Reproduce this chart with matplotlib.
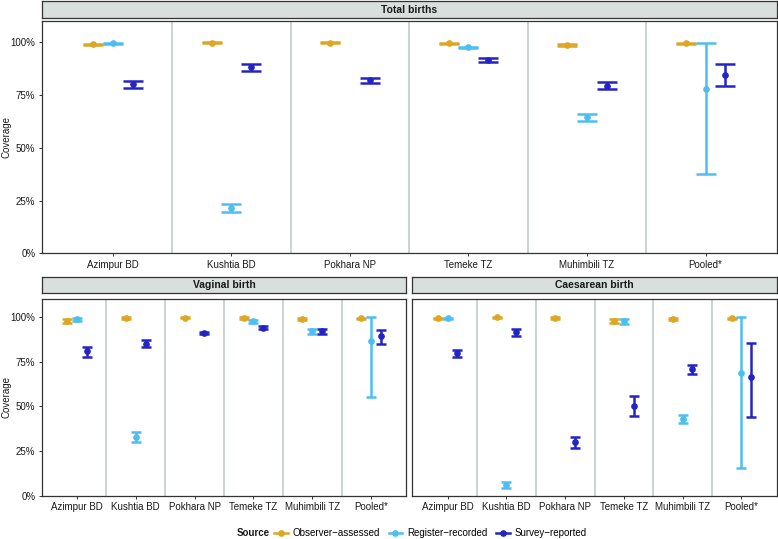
import numpy as np
import matplotlib
matplotlib.use("Agg")
import matplotlib.pyplot as plt
from matplotlib.lines import Line2D

plt.rcParams['font.family'] = ['Liberation Sans', 'DejaVu Sans']

nan = np.nan
sites = ["Azimpur BD", "Kushtia BD", "Pokhara NP", "Temeke TZ", "Muhimbili TZ", "Pooled*"]
sources = ["Observer\u2212assessed", "Register\u2212recorded", "Survey\u2212reported"]
colors = ["#DDA623", "#4DBEF2", "#2424C4"]

# Total births (percent)
tot_obs = [99.0, 99.8, 99.8, 99.5, 98.6, 99.5]
tot_obs_lo = [98.6, 99.5, 99.5, 99.2, 98.2, 99.2]
tot_obs_hi = [99.3, 100.0, 100.0, 99.8, 99.0, 99.8]
tot_reg = [99.5, 21.6, nan, 97.6, 64.5, 77.9]
tot_reg_lo = [99.2, 19.6, nan, 97.2, 62.6, 37.8]
tot_reg_hi = [99.8, 23.5, nan, 98.0, 66.2, 99.5]
tot_sur = [80.1, 88.1, 82.0, 91.6, 79.5, 84.7]
tot_sur_lo = [78.5, 86.6, 80.9, 90.5, 77.7, 79.1]
tot_sur_hi = [81.8, 89.7, 82.9, 92.7, 81.2, 89.7]

# Vaginal birth
vag_obs = [97.9, 99.6, 99.8, 99.6, 99.1, 99.4]
vag_obs_lo = [97.0, 99.2, 99.5, 99.2, 98.6, 99.0]
vag_obs_hi = [98.9, 100.0, 100.0, 100.0, 99.6, 99.8]
vag_reg = [98.7, 33.1, nan, 97.6, 92.0, 86.7]
vag_reg_lo = [97.8, 30.1, nan, 96.8, 90.8, 55.1]
vag_reg_hi = [99.6, 35.7, nan, 98.3, 93.3, 100.0]
vag_sur = [80.9, 85.2, 91.0, 94.0, 92.0, 89.2]
vag_sur_lo = [77.8, 83.4, 90.3, 93.1, 90.3, 85.2]
vag_sur_hi = [83.4, 87.3, 91.8, 95.0, 93.6, 92.9]

# Caesarean birth
cs_obs = [99.3, 99.9, 99.6, 97.8, 99.1, 99.4]
cs_obs_lo = [98.8, 99.4, 99.2, 96.6, 98.6, 99.0]
cs_obs_hi = [99.7, 100.0, 100.0, 99.1, 99.6, 99.8]
cs_reg = [99.4, 6.0, nan, 97.8, 43.0, 68.6]
cs_reg_lo = [99.0, 4.1, nan, 96.3, 40.9, 15.5]
cs_reg_hi = [99.8, 7.9, nan, 99.1, 45.2, 100.0]
cs_sur = [79.8, 91.6, 29.9, 50.3, 70.8, 66.4]
cs_sur_lo = [77.9, 89.7, 26.9, 44.7, 68.4, 44.1]
cs_sur_hi = [81.7, 93.5, 32.9, 55.9, 73.3, 85.4]

yticks = [0, 25, 50, 75, 100]
ytick_labels = ["0%", "25%", "50%", "75%", "100%"]

W, H = 778, 539
fig = plt.figure(figsize=(W / 100, H / 100), dpi=100)

BORDER = "#333333"
STRIP = "#D9DFDC"
SEP = "#BFC6C5"
TXT = "#1A1A1A"


def px_axes(x0, y0, x1, y1):
    return fig.add_axes([x0 / W, 1 - y1 / H, (x1 - x0) / W, (y1 - y0) / H])


def strip(x0, y0, x1, y1, title):
    sa = px_axes(x0, y0, x1, y1)
    sa.set_facecolor(STRIP)
    sa.set_xticks([]); sa.set_yticks([])
    for s in sa.spines.values():
        s.set_color(BORDER); s.set_linewidth(0.9)
    sa.text(0.5, 0.5, title, ha="center", va="center", fontsize=7.5,
            fontweight="bold", color=TXT, transform=sa.transAxes)


def panel(x0, y0, x1, y1, series, capsize, show_y):
    ax = px_axes(x0, y0, x1, y1)
    n = len(sites)
    xpos = np.arange(1, n + 1)
    ax.set_xlim(0.4, n + 0.6)
    ax.set_ylim(0, 110)
    for b in np.arange(1.5, n, 1.0):
        ax.axvline(b, color=SEP, lw=1.1, zorder=0)
    offsets = [-1 / 6, 0, 1 / 6]
    for k, (vals, lo, hi) in enumerate(series):
        v = np.array(vals); l = np.array(lo); h = np.array(hi)
        ax.errorbar(xpos + offsets[k], v, yerr=[v - l, h - v], fmt="o",
                    color=colors[k], ecolor=colors[k], elinewidth=1.8,
                    capsize=capsize, capthick=1.8, markersize=3.8, zorder=3)
    ax.set_xticks(xpos)
    ax.set_xticklabels(sites, fontsize=7, color=TXT)
    ax.set_yticks(yticks)
    ax.tick_params(axis="both", length=2.5, width=0.7, color=BORDER, pad=2)
    if show_y:
        ax.set_yticklabels(ytick_labels, fontsize=7, color=TXT)
        fig.text(6 / W, 1 - ((y0 + y1) / 2) / H, "Coverage", rotation=90,
                 fontsize=7, color=TXT, ha="center", va="center")
    else:
        ax.set_yticklabels([])
        ax.tick_params(axis="y", length=0)
    for s in ax.spines.values():
        s.set_color(BORDER); s.set_linewidth(0.9)
    return ax


# Top panel
strip(41.7, 1.3, 776.7, 18.3, "Total births")
panel(41.7, 21.3, 776.7, 253.3,
      [(tot_obs, tot_obs_lo, tot_obs_hi),
       (tot_reg, tot_reg_lo, tot_reg_hi),
       (tot_sur, tot_sur_lo, tot_sur_hi)], capsize=7.2, show_y=True)

# Bottom left
strip(41.7, 277.3, 406.3, 292.7, "Vaginal birth")
panel(41.7, 299.3, 406.3, 495.7,
      [(vag_obs, vag_obs_lo, vag_obs_hi),
       (vag_reg, vag_reg_lo, vag_reg_hi),
       (vag_sur, vag_sur_lo, vag_sur_hi)], capsize=3.6, show_y=True)

# Bottom right
strip(412.3, 277.3, 776.7, 292.7, "Caesarean birth")
panel(412.3, 299.3, 776.7, 495.7,
      [(cs_obs, cs_obs_lo, cs_obs_hi),
       (cs_reg, cs_reg_lo, cs_reg_hi),
       (cs_sur, cs_sur_lo, cs_sur_hi)], capsize=3.6, show_y=False)

# Legend
fig.text(237 / W, 1 - 533 / H, "Source", fontsize=7, fontweight="bold",
         color=TXT, ha="left", va="center")
handles = [Line2D([], [], color=c, lw=1.8, marker="o", markersize=3.8) for c in colors]
fig.legend(handles, sources, loc="center left", bbox_to_anchor=(274 / W, 1 - 533 / H),
           ncol=3, frameon=False, fontsize=7, handlelength=1.4, handletextpad=0.5,
           columnspacing=0.9, borderaxespad=0, borderpad=0)

fig.savefig("out.png", dpi=100, facecolor="white")
